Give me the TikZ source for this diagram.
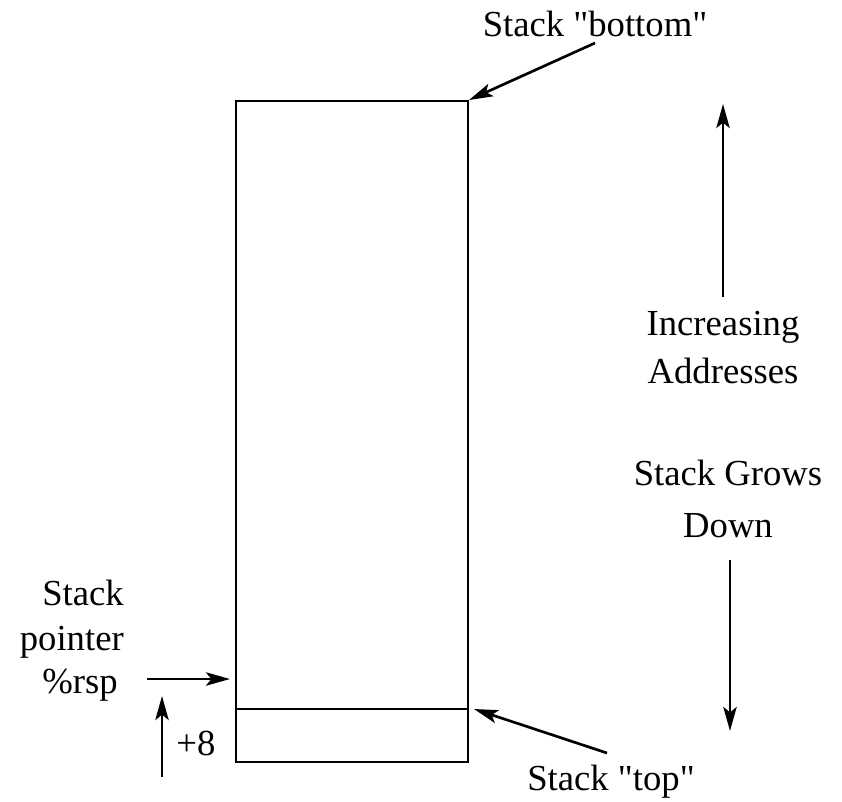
\documentclass[tikz,border=0pt]{standalone}
\usepackage{fontspec}
\setmainfont{Liberation Serif}[Ligatures=TeXOff]
\usetikzlibrary{arrows.meta}
\begin{document}
\begin{tikzpicture}[x=0.75pt,y=-0.75pt,
  lbl/.style={font=\fontsize{27.5}{34}\selectfont, inner sep=0pt, anchor=base},
  conn/.style={line width=2pt, -{Stealth[length=18pt,width=10pt,inset=4pt]}},
  box/.style={line width=2.1pt}]
\useasboundingbox (0,0) rectangle (842,801);
% stack box
\coordinate (tl) at (236,101);
\coordinate (br) at (468,762);
\draw[box] (tl) rectangle (br);
\coordinate (ml) at (236,709);
\coordinate (mr) at (468,709);
\draw[line width=0.8pt] (ml) -- (mr);
% Stack bottom
\node[lbl] (bot) at (595,36) {Stack "bottom"};
\coordinate (botS) at (595,43);
\coordinate (botT) at (469,100);
\draw[conn] (botS) -- (botT);
% Increasing addresses
\coordinate (upS) at (723,297);
\coordinate (upT) at (723,104);
\draw[conn] (upS) -- (upT);
\node[lbl] (inc) at (723,335) {Increasing};
\node[lbl] (addr) at (723,383) {Addresses};
% Stack grows down
\node[lbl] (grows) at (728,485) {Stack Grows};
\node[lbl] (down) at (728,537) {Down};
\coordinate (dnS) at (730,560);
\coordinate (dnT) at (730,731);
\draw[conn] (dnS) -- (dnT);
% Stack pointer
\node[lbl, anchor=base east] (sp1) at (124,605) {Stack};
\node[lbl, anchor=base east] (sp2) at (124,650) {pointer};
\node[lbl, anchor=base east] (sp3) at (118,693) {\%rsp};
\coordinate (rspS) at (147,679);
\coordinate (rspT) at (230,679);
\draw[conn] (rspS) -- (rspT);
% +8
\coordinate (p8S) at (162,777);
\coordinate (p8T) at (162,696);
\draw[conn] (p8S) -- (p8T);
\node[lbl] (p8) at (196,755) {+8};
% Stack top
\node[lbl] (top) at (611,790) {Stack "top"};
\coordinate (topS) at (607,753);
\coordinate (topT) at (474,709);
\draw[conn] (topS) -- (topT);
\end{tikzpicture}
\end{document}
